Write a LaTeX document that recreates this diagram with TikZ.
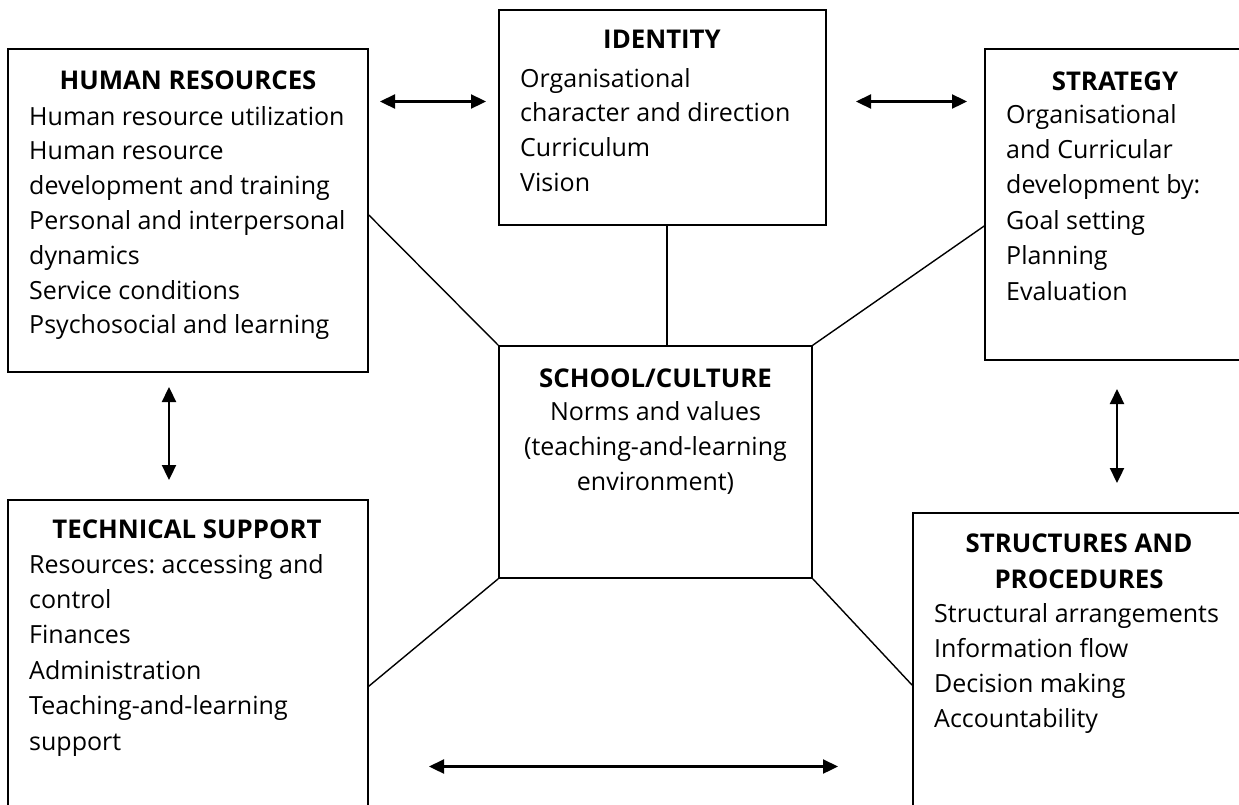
\documentclass[tikz,border=0pt]{standalone}
\usepackage{fontspec}
\setmainfont{Open Sans}
\frenchspacing
\usetikzlibrary{arrows.meta}
\tikzset{
  box/.style={draw, line width=1.6pt, inner sep=0pt, fill=none},
  txt/.style={inner sep=0pt, font=\fontsize{25}{30}\selectfont},
  ttl/.style={inner sep=0pt, font=\fontsize{25.8}{30}\selectfont\bfseries, anchor=base},
  link/.style={line width=1.4pt},
  dbl/.style={line width=2.3pt, {Triangle[length=15pt,width=14pt]}-{Triangle[length=15pt,width=14pt]}}
}
\begin{document}
\begin{tikzpicture}[x=1pt,y=-1pt]
\useasboundingbox (0,0) rectangle (1239,804);
\clip (0,0) rectangle (1239,804);
% boxes
\node[box, minimum width=360pt, minimum height=323pt] (hr) at (188,210.5) {};
\node[box, minimum width=327pt, minimum height=215pt] (id) at (662.5,117.5) {};
\node[box, minimum width=260pt, minimum height=311pt] (st) at (1115,204.5) {};
\node[box, minimum width=313pt, minimum height=232pt] (ce) at (655.5,462) {};
\node[box, minimum width=360pt, minimum height=380pt] (ts) at (188,690) {};
\node[box, minimum width=332pt, minimum height=367pt] (sp) at (1079,696.5) {};
% titles
\node[ttl] (hrt) at (188,89) {HUMAN RESOURCES};
\node[ttl] (idt) at (662,48) {IDENTITY};
\node[ttl] (stt) at (1115,90) {STRATEGY};
\node[ttl] (cet) at (655.5,387) {SCHOOL/CULTURE};
\node[ttl] (tst) at (187,538) {TECHNICAL SUPPORT};
\node[ttl] (spt1) at (1079,552) {STRUCTURES AND};
\node[ttl] (spt2) at (1079,588) {PROCEDURES};
% bodies
\foreach \t [count=\i from 0] in {{Human resource utilization}, {Human resource}, {development and training}, {Personal and interpersonal}, {dynamics}, {Service conditions}, {Psychosocial and learning}}
  \node[txt, anchor=base west] (hrb\i) at (29,125+34.8*\i) {\t};
\foreach \t [count=\i from 0] in {{Organisational}, {character and direction}, {Curriculum}, {Vision}}
  \node[txt, anchor=base west] (idb\i) at (520,87+34.8*\i) {\t};
\foreach \t [count=\i from 0] in {{Organisational}, {and Curricular}, {development by:}, {Goal setting}, {Planning}, {Evaluation}}
  \node[txt, anchor=base west] (stb\i) at (1006,123+35.4*\i) {\t};
\foreach \t [count=\i from 0] in {{Norms and values}, {(teaching-and-learning}, {environment)}}
  \node[txt, anchor=base] (ceb\i) at (655.5,420+35*\i) {\t};
\foreach \t [count=\i from 0] in {{Resources: accessing and}, {control}, {Finances}, {Administration}, {Teaching-and-learning}, {support}}
  \node[txt, anchor=base west] (tsb\i) at (29,573+35.4*\i) {\t};
\foreach \t [count=\i from 0] in {{Structural arrangements}, {Information flow}, {Decision making}, {Accountability}}
  \node[txt, anchor=base west] (spb\i) at (934,622+35.3*\i) {\t};
% links
\draw[link] ([yshift=-4.5pt]hr.east) -- (ce.north west);
\draw[link] ([xshift=4.5pt]id.south) -- ([xshift=4.5pt]id.south |- ce.north);
\draw[link] ([yshift=-21.5pt]st.west) -- (ce.north east);
\draw[link] ([yshift=-187pt]ts.north east) -- (ce.south west);
\draw[link] ([yshift=-173pt]sp.north west) -- (ce.south east);
% double arrows
\coordinate (a1l) at (380,101.5); \coordinate (a1r) at (486,101.5);
\coordinate (a2l) at (856,101.5); \coordinate (a2r) at (967,101.5);
\coordinate (a3t) at (169,387); \coordinate (a3b) at (169,480);
\coordinate (a4t) at (1117,389); \coordinate (a4b) at (1117,483);
\coordinate (a5l) at (429,766.5); \coordinate (a5r) at (838,766.5);
\draw[dbl] (a1l) -- (a1r);
\draw[dbl] (a2l) -- (a2r);
\draw[dbl] (a3t) -- (a3b);
\draw[dbl] (a4t) -- (a4b);
\draw[dbl] (a5l) -- (a5r);
\end{tikzpicture}
\end{document}
